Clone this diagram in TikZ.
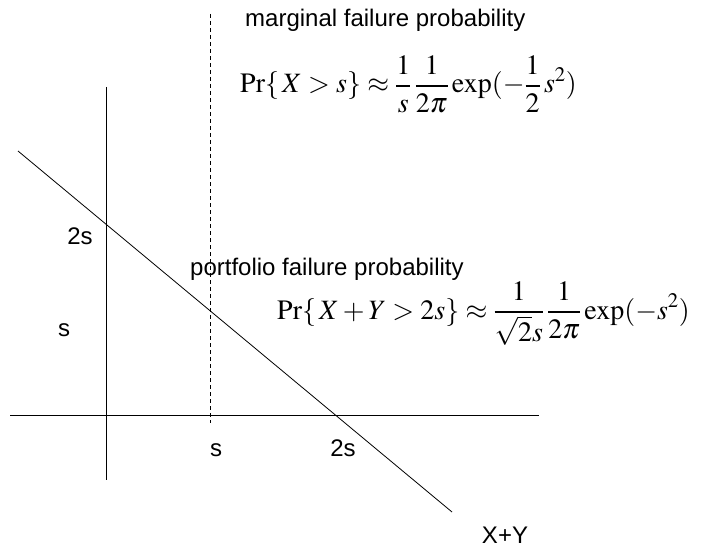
\documentclass[tikz,border=0pt]{standalone}
\usepackage{mathptmx}
\usepackage[no-math]{fontspec}
\newfontfamily\arialf{Liberation Sans}
\begin{document}
\begin{tikzpicture}[x=1pt,y=-1pt,
  axisline/.style={line width=0.9pt},
  thinline/.style={line width=0.8pt},
  guide/.style={line width=0.8pt,dash pattern=on 4pt off 3pt},
  lbl/.style={font=\arialf\fontsize{24}{29}\selectfont,inner sep=0pt,anchor=base},
  formula/.style={font=\fontsize{28}{34}\selectfont,inner sep=0pt,anchor=base west}]
\useasboundingbox (0,0) rectangle (703,548);
% axes
\coordinate (vtop) at (106,87);
\coordinate (vbot) at (106,480);
\coordinate (hl) at (10,415);
\coordinate (hr) at (539,415);
\draw[axisline] (vtop) -- (vbot);
\draw[axisline] (hl) -- (hr);
% diagonal X+Y = 2s
\coordinate (dtop) at (18,151);
\coordinate (dbot) at (452,512);
\draw[thinline] (dtop) -- (dbot);
% dashed vertical at s
\coordinate (gtop) at (210,14);
\coordinate (gbot) at (210,423);
\draw[guide] (gtop) -- (gbot);
% labels
\node[lbl] (y2s) at (80,244) {2s};
\node[lbl] (ys) at (64,336) {s};
\node[lbl] (xs) at (216,456) {s};
\node[lbl] (x2s) at (343,456) {2s};
\node[lbl] (xy) at (505,543) {X+Y};
\node[lbl,anchor=base west] (mtitle) at (245,27) {marginal failure probability};
\node[lbl,anchor=base west] (ptitle) at (190,275) {portfolio failure probability};
% formulas
\node[formula] (f1) at (240,93) {$\displaystyle \Pr\{\,X > s\} \approx \frac{1}{s}\,\frac{1}{2\pi}\exp(-\frac{1}{2}\,s^{2})$};
\node[formula] (f2) at (277,319) {$\displaystyle \Pr\{\,X + Y > 2s\} \approx \frac{1}{\sqrt{2}s}\,\frac{1}{2\pi}\exp(-s^{2})$};
\end{tikzpicture}
\end{document}
